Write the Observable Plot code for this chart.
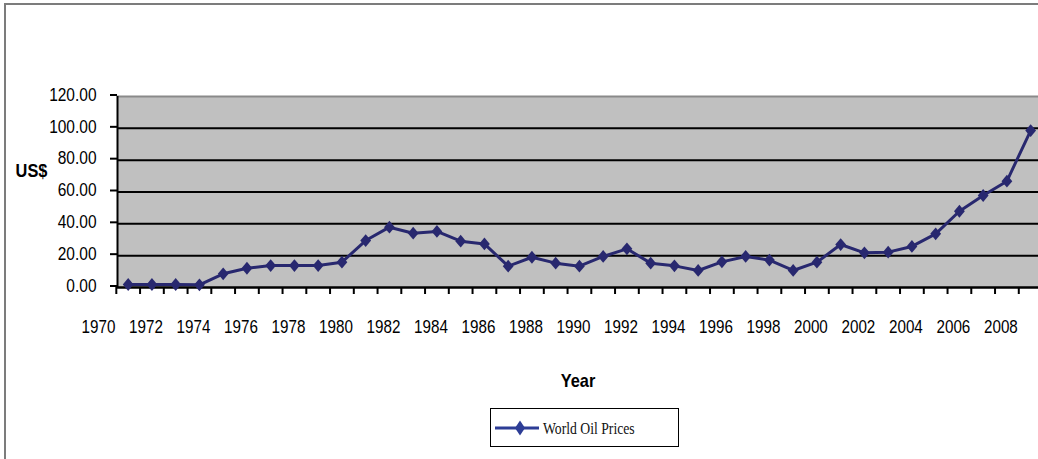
<!DOCTYPE html>
<html>
<head>
<meta charset="utf-8">
<script src="https://cdn.jsdelivr.net/npm/d3@7"></script>
<script src="https://cdn.jsdelivr.net/npm/@observablehq/plot@0.6"></script>
<style>
  html, body { margin: 0; padding: 0; background: #fff; }
  #wrap { position: relative; width: 1038px; height: 459px; overflow: hidden; }
  #border { position: absolute; left: 4px; top: 3px; right: -10px; bottom: -10px;
            border-top: 2px solid #7c7c7c; border-left: 2px solid #7c7c7c; pointer-events: none; }
  #legend { position: absolute; left: 490px; top: 408px; width: 187px; height: 37px;
            border: 1.5px solid #000; background: #fff; }
  #legend svg { position: absolute; left: 0; top: 0; }
</style>
</head>
<body>
<div id="wrap">
  <div id="chart"></div>
  <div id="border"></div>
  <div id="legend">
    <svg width="187" height="37">
      <line x1="4" y1="19" x2="48" y2="19" stroke="#2d3d96" stroke-width="3"></line>
      <polygon points="29,11.5 34,19 29,26.5 24,19" fill="#2d3d96"></polygon>
      <text id="legtext" x="52" y="25" font-family="'Liberation Serif', 'Times New Roman', serif"
            font-size="16.5" fill="#111"></text>
    </svg>
  </div>
</div>
<script>
const years = [1971,1972,1973,1974,1975,1976,1977,1978,1979,1980,
               1981,1982,1983,1984,1985,1986,1987,1988,1989,1990,
               1991,1992,1993,1994,1995,1996,1997,1998,1999,2000,
               2001,2002,2003,2004,2005,2006,2007,2008,2009];
const prices = [1.9,1.9,1.9,1.7,8.6,12.1,13.8,13.8,13.8,15.9,
                29.5,37.9,34.1,35.2,29.1,27.4,13.4,19.0,15.3,13.4,
                19.5,24.3,15.3,13.6,10.7,16.1,19.5,17.2,10.7,15.9,
                27.0,21.8,22.2,25.8,33.7,47.9,57.8,66.8,98.6];
const yTicks = [0,20,40,60,80,100,120];
const xLabels = [1970,1972,1974,1976,1978,1980,1982,1984,1986,1988,
                 1990,1992,1994,1996,1998,2000,2002,2004,2006,2008];
const seriesName = "World Oil Prices";

const data = years.map((year, i) => ({year, price: prices[i]}));
const boundaries = years.map(y => y - 0.5);
const navy = "#28286f";

const diamond = {
  draw(ctx) {
    ctx.moveTo(0, -6.4);
    ctx.lineTo(5.4, 0);
    ctx.lineTo(0, 6.4);
    ctx.lineTo(-5.4, 0);
    ctx.closePath();
  }
};

const chart = Plot.plot({
  width: 1038,
  height: 459,
  marginLeft: 117,
  marginRight: 0,
  marginTop: 96,
  marginBottom: 172,
  style: {fontFamily: "'Liberation Sans', Arial, sans-serif", fontSize: "16px", color: "#000", background: "transparent", overflow: "visible"},
  x: {domain: [1970.55, 2009.33]},
  y: {domain: [0, 120]},
  marks: [
    Plot.frame({fill: "#c0c0c0", stroke: "none"}),
    Plot.ruleY(yTicks.filter(d => d > 0 && d < 120), {stroke: "#000", strokeWidth: 2}),
    Plot.ruleY([120], {stroke: "#8a8a8a", strokeWidth: 2}),
    Plot.ruleY([0], {stroke: "#000", strokeWidth: 2.5}),
    Plot.ruleX([1970.55], {y1: 0, y2: 120, stroke: "#000", strokeWidth: 2}),
    Plot.axisY({ticks: yTicks, tickFormat: d => d.toFixed(2), tickSize: 7, tickPadding: 14, dy: -1.5,
                strokeWidth: 2, label: null, fontSize: 18}),
    Plot.axisX({ticks: boundaries, tickFormat: () => "", tickSize: 7, strokeWidth: 2, label: null}),
    Plot.axisX({ticks: xLabels, tickFormat: d => String(d), tickSize: 0, tickPadding: 32, dx: -6,
                label: null, fontSize: 19}),
    Plot.line(data, {x: "year", y: "price", stroke: navy, strokeWidth: 3}),
    Plot.dot(data, {x: "year", y: "price", symbol: diamond, r: 5, fill: navy, stroke: "none"}),
    Plot.text(["US$"], {text: d => d, frameAnchor: "top-left", dx: -86, dy: 74, textAnchor: "middle",
                        lineAnchor: "middle", fontWeight: "bold", fontSize: 19, fill: "#000"}),
    Plot.text(["Year"], {text: d => d, frameAnchor: "bottom", dy: 93, lineAnchor: "middle",
                         fontWeight: "bold", fontSize: 19, fill: "#000"})
  ]
});
document.getElementById("chart").appendChild(chart);
document.getElementById("legtext").textContent = seriesName;

// the reference text is horizontally condensed (Arial Narrow look)
function condense(t, k) {
  const w = t.getComputedTextLength();
  if (w > 0) {
    t.setAttribute("textLength", (w * k).toFixed(2));
    t.setAttribute("lengthAdjust", "spacingAndGlyphs");
  }
}
chart.querySelectorAll("text").forEach(t => {
  const isX = /^\d{4}$/.test(t.textContent.trim());
  condense(t, isX ? 0.8 : 0.86);
});
document.querySelectorAll("#legend text").forEach(t => condense(t, 0.83));
</script>
</body>
</html>
